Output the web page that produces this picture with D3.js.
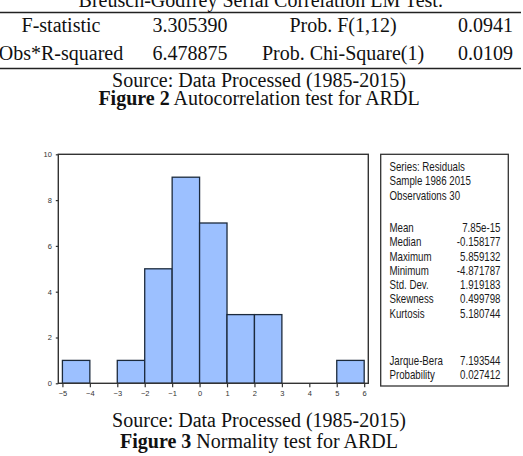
<!DOCTYPE html>
<html><head><meta charset="utf-8">
<script src="https://cdn.jsdelivr.net/npm/d3@7"></script>
<style>
html,body{margin:0;padding:0;background:#fff;}
svg{display:block;}
</style></head>
<body>
<script>
// ---- Data ----
const tableHeader = "Breusch-Godfrey Serial Correlation LM Test:";
const tableRow1 = ["F-statistic", "3.305390", "Prob. F(1,12)", "0.0941"];
const tableRow2 = ["Obs*R-squared", "6.478875", "Prob. Chi-Square(1)", "0.0109"];
const caption2Source = "Source: Data Processed (1985-2015)";
const caption2Bold = "Figure 2";
const caption2Text = " Autocorrelation test for ARDL";

const binStarts = [-5, -4, -3, -2, -1, 0, 1, 2, 3, 4, 5];
const binCounts = [1, 0, 1, 5, 9, 7, 3, 3, 0, 0, 1];
const xTicks = [-5, -4, -3, -2, -1, 0, 1, 2, 3, 4, 5, 6];
const yTicks = [0, 2, 4, 6, 8, 10];

const statsHeader = ["Series: Residuals", "Sample 1986 2015", "Observations 30"];
const statLabels = ["Mean", "Median", "Maximum", "Minimum", "Std. Dev.", "Skewness", "Kurtosis"];
const statValues = ["7.85e-15", "-0.158177", "5.859132", "-4.871787", "1.919183", "0.499798", "5.180744"];
const testLabels = ["Jarque-Bera", "Probability"];
const testValues = ["7.193544", "0.027412"];

const caption3Source = "Source: Data Processed (1985-2015)";
const caption3Bold = "Figure 3";
const caption3Text = " Normality test for ARDL";

// ---- Drawing ----
const W = 523, H = 456;
const svg = d3.select("body").append("svg").attr("width", W).attr("height", H);
const serif = "'Liberation Serif','Times New Roman',serif";

// Table
svg.append("text").attr("x", 261).attr("y", 6.5).attr("text-anchor", "middle")
  .attr("font-family", serif).attr("font-size", 20).attr("fill", "#111").text(tableHeader);
svg.append("line").attr("x1", 0).attr("x2", 521).attr("y1", 12.5).attr("y2", 12.5)
  .attr("stroke", "#222").attr("stroke-width", 1.3);
svg.append("line").attr("x1", 0).attr("x2", 521).attr("y1", 68.5).attr("y2", 68.5)
  .attr("stroke", "#222").attr("stroke-width", 1.3);
const colX = [61, 190, 343, 485.5];
[[tableRow1, 32], [tableRow2, 59.5]].forEach(([row, y]) => {
  row.forEach((t, i) => {
    svg.append("text").attr("x", colX[i]).attr("y", y).attr("text-anchor", "middle")
      .attr("font-family", serif).attr("font-size", 20).attr("fill", "#111").text(t);
  });
});
function caption(src, bold, rest, y1, y2) {
  svg.append("text").attr("x", 259).attr("y", y1).attr("text-anchor", "middle")
    .attr("font-family", serif).attr("font-size", 20).attr("fill", "#111").text(src);
  const t = svg.append("text").attr("x", 259).attr("y", y2).attr("text-anchor", "middle")
    .attr("font-family", serif).attr("font-size", 20).attr("fill", "#111");
  t.append("tspan").attr("font-weight", "bold").text(bold);
  t.append("tspan").text(rest);
}
caption(caption2Source, caption2Bold, caption2Text, 86.5, 105);

// Histogram
const plot = {left: 58.3, right: 368.3, top: 154.3, bottom: 383.3};
const x = d3.scaleLinear().domain([-5.15, 6.15]).range([plot.left, plot.right]);
const y = d3.scaleLinear().domain([0, 10]).range([plot.bottom, plot.top]);

const bins = binStarts.map((s, i) => ({x0: s, x1: s + 1, n: binCounts[i]})).filter(d => d.n > 0);
svg.append("g").selectAll("rect").data(bins).join("rect")
  .attr("x", d => x(d.x0)).attr("y", d => y(d.n))
  .attr("width", d => x(d.x1) - x(d.x0)).attr("height", d => y(0) - y(d.n))
  .attr("fill", "#9cc0ff").attr("stroke", "#1c2a3c").attr("stroke-width", 1.3);

// frame
svg.append("rect").attr("x", plot.left).attr("y", plot.top)
  .attr("width", plot.right - plot.left).attr("height", plot.bottom - plot.top)
  .attr("fill", "none").attr("stroke", "#333").attr("stroke-width", 1.4);

const xAxis = svg.append("g").attr("transform", `translate(0,${plot.bottom})`)
  .call(d3.axisBottom(x).tickValues(xTicks).tickSize(4).tickPadding(3).tickFormat(d3.format("d")));
const yAxis = svg.append("g").attr("transform", `translate(${plot.left},0)`)
  .call(d3.axisLeft(y).tickValues(yTicks).tickSize(2.5).tickPadding(4).tickFormat(d3.format("d")));
[xAxis, yAxis].forEach(g => {
  g.select(".domain").remove();
  g.selectAll("line").attr("stroke", "#333").attr("stroke-width", 1.2);
  g.selectAll("text").attr("font-family", "'Liberation Sans',Arial,sans-serif")
    .attr("font-size", 7.5).attr("fill", "#333");
});

// Stats box
svg.append("rect").attr("x", 380.7).attr("y", 154.3).attr("width", 127.6).attr("height", 231.7)
  .attr("fill", "#fff").attr("stroke", "#333").attr("stroke-width", 1.3);
const sx = 0.73, left = 389.5, right = 500.5;
const sg = svg.append("g").attr("transform", `translate(${left},0) scale(${sx},1)`);
function stxt(t, atRight, yy) {
  sg.append("text").attr("x", atRight ? (right - left) / sx : 0).attr("y", yy)
    .attr("text-anchor", atRight ? "end" : "start")
    .attr("font-family", "'Liberation Sans',Arial,sans-serif").attr("font-size", 13.3)
    .attr("fill", "#1a1a1a").text(t);
}
statsHeader.forEach((t, i) => stxt(t, false, 171 + i * 14.4));
statLabels.forEach((t, i) => stxt(t, false, 232 + i * 14.3));
statValues.forEach((t, i) => stxt(t, true, 232 + i * 14.3));
testLabels.forEach((t, i) => stxt(t, false, 365 + i * 14.3));
testValues.forEach((t, i) => stxt(t, true, 365 + i * 14.3));

caption(caption3Source, caption3Bold, caption3Text, 427, 448);
</script>
</body></html>
